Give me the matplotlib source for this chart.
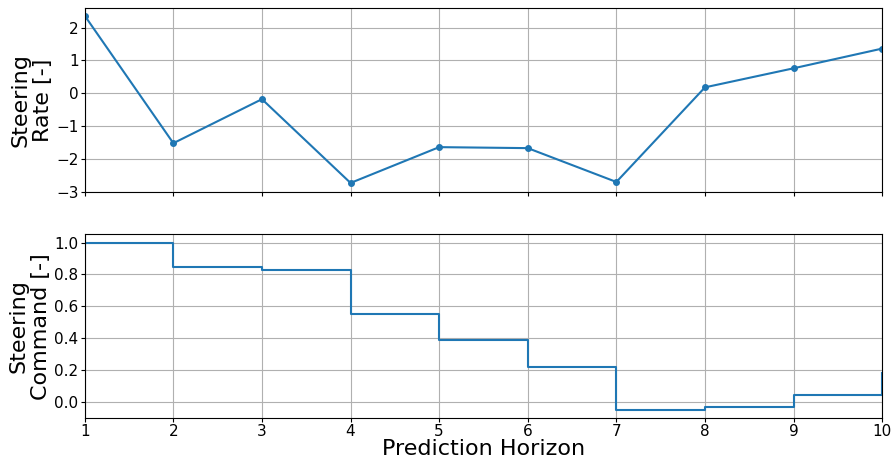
import matplotlib
matplotlib.use("Agg")
import matplotlib.pyplot as plt

horizon = [1, 2, 3, 4, 5, 6, 7, 8, 9, 10]
steering_rate = [2.36, -1.52, -0.18, -2.73, -1.64, -1.67, -2.70, 0.18, 0.76, 1.36]
steering_cmd = [1.0, 0.845, 0.826, 0.553, 0.391, 0.224, -0.046, -0.028, 0.048, 0.184]

fig, (ax1, ax2) = plt.subplots(2, 1, sharex=True, figsize=(8.92, 4.61), dpi=100)
fig.subplots_adjust(left=0.095, right=0.989, top=0.983, bottom=0.093, hspace=0.23)

ax1.plot(horizon, steering_rate, marker='o', markersize=4, color='tab:blue')
ax1.set_ylabel("Steering\nRate [-]", fontsize=16, labelpad=2)
ax1.set_ylim(-3.0, 2.6)
ax1.grid(True)

ax2.step(horizon, steering_cmd, where='post', color='tab:blue')
ax2.set_ylabel("Steering\nCommand [-]", fontsize=16, labelpad=2)
ax2.set_xlabel("Prediction Horizon", fontsize=16, labelpad=0)
ax2.grid(True)
ax2.set_xlim(1, 10)
ax2.set_xticks(horizon)

for ax in (ax1, ax2):
    ax.tick_params(labelsize=11, length=3, pad=1.5)

fig.savefig("out.png")
